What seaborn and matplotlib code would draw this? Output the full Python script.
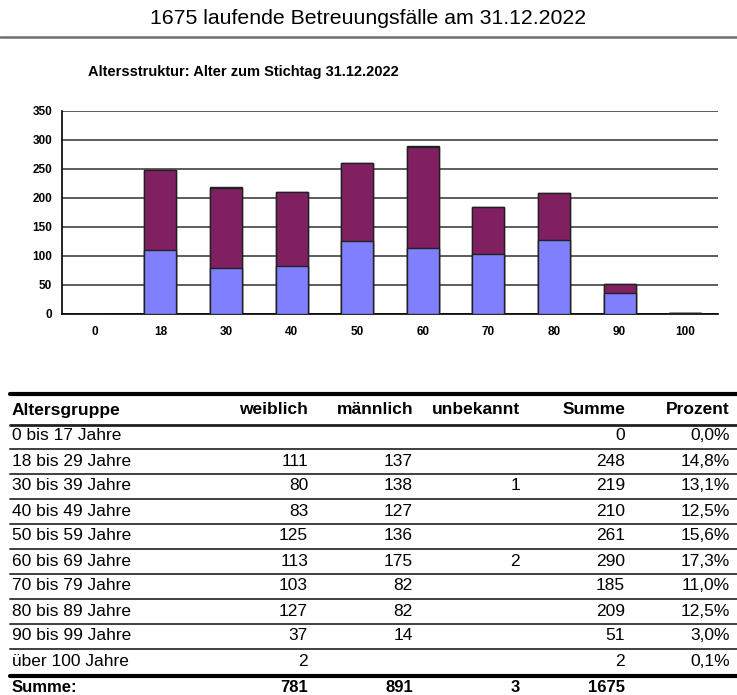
import numpy as np
import pandas as pd
import matplotlib
matplotlib.use("Agg")
import matplotlib.pyplot as plt
from matplotlib.lines import Line2D
import seaborn as sns

# ── Data ──
alter_start = ["0", "18", "30", "40", "50", "60", "70", "80", "90", "100"]
gruppen = ["0 bis 17 Jahre", "18 bis 29 Jahre", "30 bis 39 Jahre", "40 bis 49 Jahre",
           "50 bis 59 Jahre", "60 bis 69 Jahre", "70 bis 79 Jahre", "80 bis 89 Jahre",
           "90 bis 99 Jahre", "über 100 Jahre"]
weiblich = [0, 111, 80, 83, 125, 113, 103, 127, 37, 2]
maennlich = [0, 137, 138, 127, 136, 175, 82, 82, 14, 0]
unbekannt = [0, 0, 1, 0, 0, 2, 0, 0, 0, 0]
y_ticks = [0, 50, 100, 150, 200, 250, 300, 350]

df = pd.DataFrame({"alter": alter_start, "w": weiblich, "m": maennlich, "u": unbekannt})
df["wm"] = df["w"] + df["m"]
df["summe"] = df["wm"] + df["u"]
gesamt = int(df["summe"].sum())

sns.set_style("white")
plt.rcParams["font.family"] = ["Liberation Sans", "DejaVu Sans"]
plt.rcParams["text.color"] = "black"
plt.rcParams["xtick.color"] = "black"
plt.rcParams["ytick.color"] = "black"
narrow = ["Liberation Sans Narrow", "Liberation Sans", "DejaVu Sans"]

W, H = 737, 695
fig = plt.figure(figsize=(W / 100, H / 100), dpi=100)

def fx(px):
    return px / W

def fy(py):
    return 1 - py / H

# ── Header ──
fig.text(fx(368), fy(18), f"{gesamt} laufende Betreuungsfälle am 31.12.2022",
         ha="center", va="center", fontsize=15.3)
fig.add_artist(Line2D([0, 1], [fy(37), fy(37)], color="#707070", lw=1.8))
fig.text(fx(88), fy(72), "Altersstruktur: Alter zum Stichtag 31.12.2022",
         ha="left", va="center", fontsize=10.5, fontweight="bold", family=narrow)

# ── Stacked bar chart ──
ax = fig.add_axes([fx(62), fy(314), fx(718 - 62), (314 - 111) / H])
bw = 0.49
sns.barplot(data=df, x="alter", y="summe", order=alter_start, color="#FFFFCC",
            saturation=1, width=bw, edgecolor="#202020", linewidth=1, ax=ax, zorder=3)
sns.barplot(data=df, x="alter", y="wm", order=alter_start, color="#802060",
            saturation=1, width=bw, edgecolor="#202020", linewidth=1, ax=ax, zorder=3)
sns.barplot(data=df, x="alter", y="w", order=alter_start, color="#8080FF",
            saturation=1, width=bw, edgecolor="#202020", linewidth=1, ax=ax, zorder=3)

ax.set_xlim(-0.5, len(alter_start) - 0.5)
ax.set_ylim(0, 350)
ax.set_yticks(y_ticks)
ax.yaxis.grid(True, color="#303030", lw=1.1, zorder=0)
ax.set_axisbelow(True)
ax.set_xlabel("")
ax.set_ylabel("")
for s in ["top", "right"]:
    ax.spines[s].set_visible(False)
for s in ["left", "bottom"]:
    ax.spines[s].set_color("black")
    ax.spines[s].set_linewidth(1.2)
ax.set_xticks(np.arange(-0.5, len(alter_start)), minor=True)
ax.tick_params(axis="x", which="major", length=0, pad=9)
ax.tick_params(axis="x", which="minor", length=4, width=1, direction="out", color="black")
ax.tick_params(axis="y", length=4, width=1, direction="out", color="black", pad=3)
for lab in ax.get_xticklabels() + ax.get_yticklabels():
    lab.set_fontweight("bold")
    lab.set_fontsize(8.5)
    lab.set_family(narrow)
    lab.set_color("black")

# ── Table ──
col_right = [308, 413, 520, 625, 730]
header = ["weiblich", "männlich", "unbekannt", "Summe", "Prozent"]
row_y0 = 436
pitch = 25

fig.add_artist(Line2D([fx(10), 1], [fy(394), fy(394)], color="black", lw=3))
fig.text(fx(12), fy(410), "Altersgruppe", ha="left", va="center", fontsize=12.5, fontweight="bold")
for x, h in zip(col_right, header):
    fig.text(fx(x), fy(410), h, ha="right", va="center", fontsize=12.5, fontweight="bold")
fig.add_artist(Line2D([fx(10), 1], [fy(425), fy(425)], color="#202020", lw=2))

for i, g in enumerate(gruppen):
    y = row_y0 + i * pitch
    vals = [weiblich[i], maennlich[i], unbekannt[i]]
    fig.text(fx(12), fy(y), g, ha="left", va="center", fontsize=12.5)
    for x, v in zip(col_right[:3], vals):
        if v:
            fig.text(fx(x), fy(y), str(v), ha="right", va="center", fontsize=12.5)
    s = int(df["summe"][i])
    fig.text(fx(col_right[3]), fy(y), str(s), ha="right", va="center", fontsize=12.5)
    pct = f"{s / gesamt * 100:.1f}%".replace(".", ",")
    fig.text(fx(col_right[4]), fy(y), pct, ha="right", va="center", fontsize=12.5)
    if i < len(gruppen) - 1:
        ly = y + 13
        fig.add_artist(Line2D([fx(10), 1], [fy(ly), fy(ly)], color="#404040", lw=1.4))

fig.add_artist(Line2D([fx(10), 1], [fy(676), fy(676)], color="black", lw=3))
sum_y = 687
fig.text(fx(12), fy(sum_y), "Summe:", ha="left", va="center", fontsize=12,
         fontweight="bold", family=narrow)
totals = [sum(weiblich), sum(maennlich), sum(unbekannt), gesamt]
for x, t in zip(col_right[:4], totals):
    fig.text(fx(x), fy(sum_y), str(t), ha="right", va="center", fontsize=12,
             fontweight="bold", family=narrow)

fig.savefig("out.png", dpi=100)
